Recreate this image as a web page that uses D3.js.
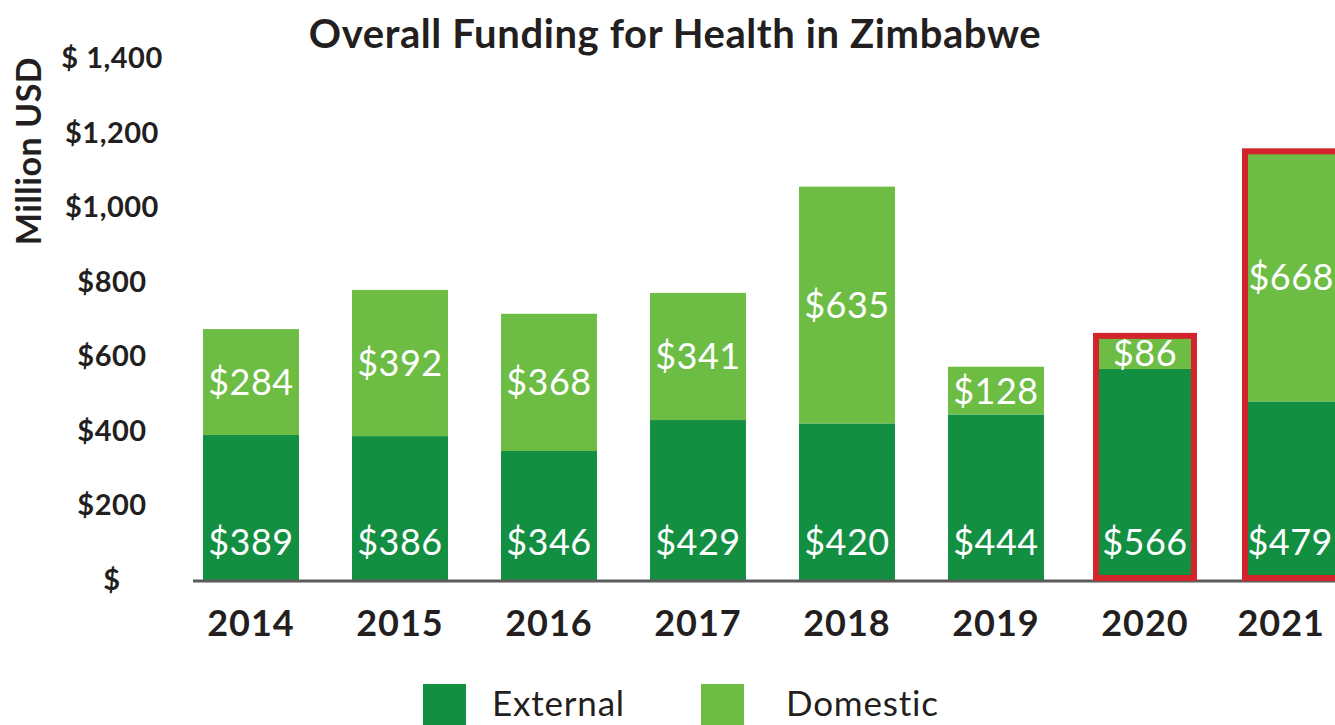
<!DOCTYPE html>
<html>
<head>
<meta charset="utf-8">
<script src="https://cdn.jsdelivr.net/npm/d3@7"></script>
<style>
  body { margin: 0; background: #fff; }
  svg { display: block; font-family: "Lato", "Open Sans", sans-serif; }
</style>
</head>
<body>
<div id="chart"></div>
<script>
// data
var years = ["2014", "2015", "2016", "2017", "2018", "2019", "2020", "2021"];
var external = [389, 386, 346, 429, 420, 444, 566, 479];
var domestic = [284, 392, 368, 341, 635, 128, 86, 668];
var yTicks = [0, 200, 400, 600, 800, 1000, 1200, 1400];
var yTickLabels = ["$", "$200", "$400", "$600", "$800", "$1,000", "$1,200", "$ 1,400"];
var highlighted = ["2020", "2021"];

var width = 1335, height = 725;
var darkGreen = "#138f42", lightGreen = "#6dbd45", red = "#d3242b";

var svg = d3.select("#chart")
  .append("svg")
  .attr("width", width)
  .attr("height", height);

var x = d3.scaleBand()
  .domain(years)
  .range([176.5, 1368.5])
  .paddingInner(0.356)
  .paddingOuter(0.178);

var y = d3.scaleLinear()
  .domain([0, 1400])
  .range([580, 58]);

var rows = years.map(function(yr, i) {
  return {year: yr, external: external[i], domestic: domestic[i]};
});
var series = d3.stack().keys(["external", "domestic"])(rows);
var colors = {external: darkGreen, domestic: lightGreen};

// keep centred texts from running past the right edge
function keepInside(margin) {
  return function() {
    var w = this.getComputedTextLength();
    var cx = +this.getAttribute("x");
    if (cx + w / 2 > width - margin) this.setAttribute("x", width - margin - w / 2);
  };
}

/****** BARS ******/
svg.append("g")
  .selectAll("g")
  .data(series)
  .enter()
  .append("g")
    .attr("fill", function(d) { return colors[d.key]; })
  .selectAll("rect")
  .data(function(d) { return d; })
  .enter()
  .append("rect")
    .attr("x", function(d) { return x(d.data.year); })
    .attr("y", function(d) { return y(d[1]); })
    .attr("width", x.bandwidth())
    .attr("height", function(d) { return y(d[0]) - y(d[1]); });

// baseline
svg.append("line")
  .attr("x1", 193).attr("x2", width)
  .attr("y1", y(0) + 1).attr("y2", y(0) + 1)
  .attr("stroke", "#5a5a5a")
  .attr("stroke-width", 3);

/****** BAR LABELS ******/
var fmt = function(v) { return "$" + v; };

svg.append("g")
  .selectAll("text")
  .data(rows)
  .enter()
  .append("text")
    .attr("x", function(d) { return x(d.year) + x.bandwidth() / 2; })
    .attr("y", y(0) - 25)
    .attr("text-anchor", "middle")
    .style("font-size", "36px")
    .style("letter-spacing", "0.5px")
    .style("fill", "#fff")
    .text(function(d) { return fmt(d.external); })
    .each(keepInside(2));

svg.append("g")
  .selectAll("text")
  .data(rows)
  .enter()
  .append("text")
    .attr("x", function(d) { return x(d.year) + x.bandwidth() / 2; })
    .attr("y", function(d) { return y(d.external + d.domestic / 2) + 13; })
    .attr("text-anchor", "middle")
    .style("font-size", "36px")
    .style("letter-spacing", "0.5px")
    .style("fill", "#fff")
    .text(function(d) { return fmt(d.domestic); })
    .each(keepInside(1));

/****** HIGHLIGHT BOXES ******/
svg.append("g")
  .selectAll("rect")
  .data(rows.filter(function(d) { return highlighted.indexOf(d.year) >= 0; }))
  .enter()
  .append("rect")
    .attr("x", function(d) { return x(d.year) - 1; })
    .attr("y", function(d) { return y(d.external + d.domestic) - 1; })
    .attr("width", x.bandwidth() + 2)
    .attr("height", function(d) { return y(0) - y(d.external + d.domestic) - 1; })
    .attr("fill", "none")
    .attr("stroke", red)
    .attr("stroke-width", 6);

/****** AXES ******/
svg.append("g")
  .selectAll("text")
  .data(yTicks)
  .enter()
  .append("text")
    .attr("x", 112)
    .attr("y", function(d) { return y(d) + 10; })
    .attr("text-anchor", "middle")
    .style("font-size", "29px")
    .style("letter-spacing", "0.5px")
    .style("font-weight", "bold")
    .style("fill", "#231f20")
    .text(function(d, i) { return yTickLabels[i]; });

svg.append("g")
  .selectAll("text")
  .data(years)
  .enter()
  .append("text")
    .attr("x", function(d) { return x(d) + x.bandwidth() / 2; })
    .attr("y", 636)
    .attr("text-anchor", "middle")
    .style("font-size", "36px")
    .style("letter-spacing", "1px")
    .style("font-weight", "bold")
    .style("fill", "#231f20")
    .text(function(d) { return d; })
    .each(keepInside(10));

svg.append("text")
  .attr("transform", "translate(41,151) rotate(-90)")
  .attr("text-anchor", "middle")
  .style("font-size", "34px")
  .style("letter-spacing", "0.5px")
  .style("font-weight", "bold")
  .style("fill", "#231f20")
  .text("Million USD");

/****** TITLE ******/
svg.append("text")
  .attr("x", 675)
  .attr("y", 48)
  .attr("text-anchor", "middle")
  .style("font-size", "40px")
  .style("letter-spacing", "0.6px")
  .style("font-weight", "bold")
  .style("fill", "#231f20")
  .text("Overall Funding for Health in Zimbabwe");

/****** LEGEND ******/
var legendItems = [
  {label: "External", color: darkGreen, x: 423, tx: 492},
  {label: "Domestic", color: lightGreen, x: 701, tx: 786}
];
var legend = svg.append("g")
  .selectAll("g")
  .data(legendItems)
  .enter()
  .append("g");
legend.append("rect")
  .attr("x", function(d) { return d.x; })
  .attr("y", 684)
  .attr("width", 43)
  .attr("height", 43)
  .attr("fill", function(d) { return d.color; });
legend.append("text")
  .attr("x", function(d) { return d.tx; })
  .attr("y", 716)
  .style("font-size", "35px")
  .style("letter-spacing", "0.8px")
  .style("fill", "#231f20")
  .text(function(d) { return d.label; });
</script>
</body>
</html>
